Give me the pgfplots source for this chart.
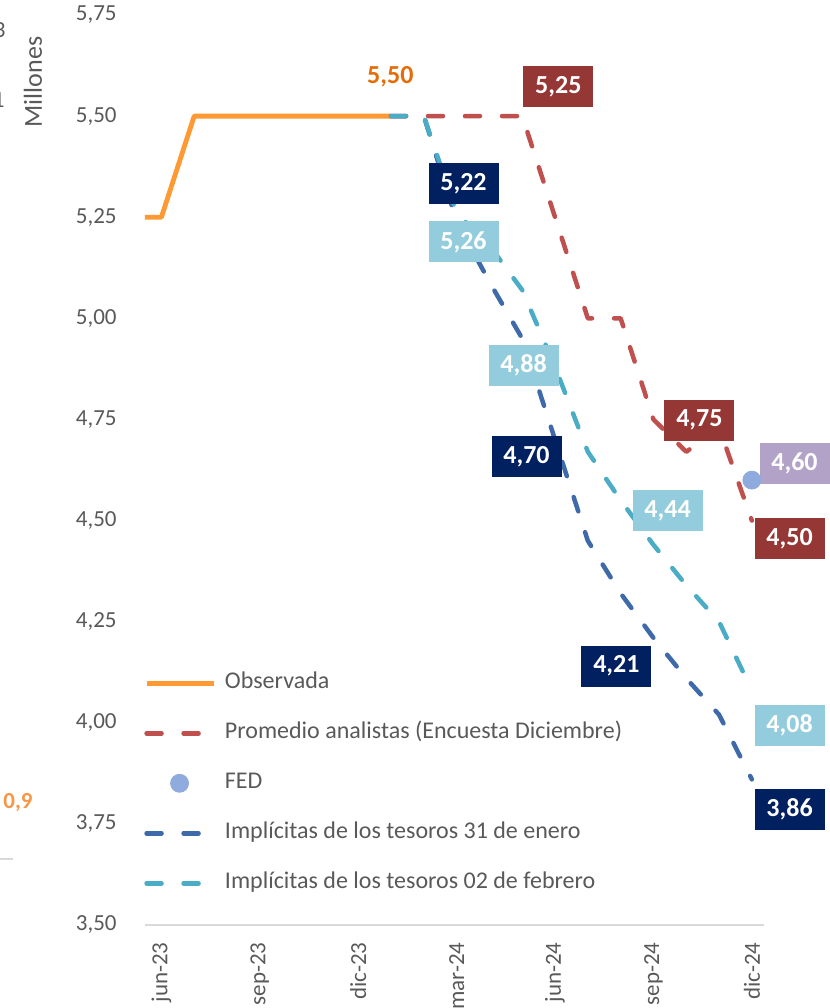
\documentclass[border=0pt]{standalone}
\usepackage{fontspec}
\setmainfont{Carlito}
\usepackage{pgfplots}
\pgfplotsset{compat=1.18}

\definecolor{obs}{HTML}{FF9933}
\definecolor{prom}{HTML}{C0504D}
\definecolor{fed}{HTML}{8FAADC}
\definecolor{ene}{HTML}{3E6AAA}
\definecolor{feb}{HTML}{4BACC6}
\definecolor{txt}{HTML}{595959}
\definecolor{axisgray}{HTML}{D9D9D9}
\definecolor{boxred}{HTML}{953735}
\definecolor{boxnavy}{HTML}{002060}
\definecolor{boxaqua}{HTML}{93CDDD}
\definecolor{boxlila}{HTML}{B3A2C7}
\definecolor{lblorange}{HTML}{E46C0A}
\definecolor{sideorange}{HTML}{F79646}

\tikzset{
  lbl/.style={fill=#1, text=white, font=\fontsize{13}{15}\selectfont\bfseries,
    minimum width=35pt, minimum height=20.5pt, inner sep=0pt},
  dashed line/.style={line width=2.25pt, line cap=round, line join=round,
    dash pattern=on 7.5pt off 11pt},
}
\pgfplotsset{
  seg legend/.style={legend image code/.code={\draw[##1] (0pt,0pt) -- (33.5pt,0pt);}},
  dot legend/.style={legend image code/.code={\draw[##1] plot coordinates {(16.5pt,0pt)};}},
}

\begin{document}
\begin{tikzpicture}
\begin{axis}[
  width=309.5pt, height=455pt, scale only axis,
  xmin=-0.5, xmax=18.37, ymin=3.5, ymax=5.75,
  ytick={3.5,3.75,4,4.25,4.5,4.75,5,5.25,5.5,5.75},
  xtick={0,3,6,9,12,15,18},
  xticklabels={jun-23,sep-23,dic-23,mar-24,jun-24,sep-24,dic-24},
  axis x line*=bottom, axis y line*=left,
  x axis line style={draw=axisgray, line width=0.75pt, -},
  y axis line style={draw=none},
  major tick length=0pt,
  tick style={draw=none},
  ticklabel style={font=\fontsize{11.5}{13}\selectfont, text=txt, inner sep=0pt},
  yticklabel shift=14pt,
  xticklabel shift=8.5pt,
  xticklabel style={rotate=90, anchor=east},
  yticklabel style={/pgf/number format/.cd, fixed, fixed zerofill, precision=2,
    use comma, assume math mode=true},
  clip=false,
  legend cell align=left,
  seg legend,
  legend style={draw=none, fill=none, at={(-0.002,0.2787)}, anchor=north west,
    inner sep=0pt, row sep=13.5pt, column sep=4.5pt,
    font=\fontsize{12}{14}\selectfont, text=txt,
    nodes={inner sep=0pt, text height=8.5pt, text depth=3pt}},
]
% Observada
\addplot[obs, line width=2.4pt, line join=round] coordinates {
  (-0.5,5.25) (0,5.25) (1,5.50) (2,5.50) (3,5.50) (4,5.50) (5,5.50) (6,5.50) (7,5.50)};
\addlegendentry{Observada}
% Promedio analistas (Encuesta Diciembre)
\addplot[prom, dashed line] coordinates {
  (7,5.50) (8,5.50) (9,5.50) (10,5.50) (11,5.50) (12,5.25) (13,5.00) (14,5.00)
  (15,4.75) (16,4.67) (17,4.73) (18,4.50)};
\addlegendentry{Promedio analistas (Encuesta Diciembre)}
% FED
\addplot[only marks, mark=*, mark size=4.5pt, fed, mark options={draw=fed, fill=fed},
  dot legend] coordinates {(18,4.60)};
\addlegendentry{FED}
% Implicitas 31 de enero
\addplot[ene, dashed line] coordinates {
  (7,5.50) (8,5.50) (9,5.24) (10,5.09) (11,4.95) (12,4.70) (13,4.45) (14,4.32)
  (15,4.21) (16,4.11) (17,4.02) (18,3.86)};
\addlegendentry{Implícitas de los tesoros 31 de enero}
% Implicitas 02 de febrero
\addplot[feb, dashed line] coordinates {
  (7,5.50) (8,5.50) (9,5.26) (10,5.18) (11,5.07) (12,4.88) (13,4.67) (14,4.55)
  (15,4.44) (16,4.34) (17,4.25) (18,4.08)};
\addlegendentry{Implícitas de los tesoros 02 de febrero}

% data labels
\node[text=lblorange, font=\fontsize{13}{15}\selectfont\bfseries, inner sep=0pt]
  at (axis cs:6.98,5.597) {5,50};
\node[lbl=boxred]   at (axis cs:12.10,5.572) {5,25};
\node[lbl=boxnavy]  at (axis cs:9.21,5.334)  {5,22};
\node[lbl=boxaqua]  at (axis cs:9.21,5.189)  {5,26};
\node[lbl=boxaqua]  at (axis cs:11.04,4.884) {4,88};
\node[lbl=boxred]   at (axis cs:16.40,4.748) {4,75};
\node[lbl=boxnavy]  at (axis cs:11.13,4.658) {4,70};
\node[lbl=boxlila]  at (axis cs:19.30,4.641) {4,60};
\node[lbl=boxaqua]  at (axis cs:15.43,4.525) {4,44};
\node[lbl=boxred]   at (axis cs:19.15,4.455) {4,50};
\node[lbl=boxnavy]  at (axis cs:13.87,4.140) {4,21};
\node[lbl=boxaqua]  at (axis cs:19.15,3.994) {4,08};
\node[lbl=boxnavy]  at (axis cs:19.15,3.786) {3,86};
\end{axis}

% pieces of the neighbouring chart, cut by the page edge
\begin{scope}[x=0.5pt, y=-0.5pt, shift={(-145,-925)}]
  \node[anchor=east, text=txt, font=\fontsize{11.5}{13}\selectfont, inner sep=0pt] at (6,30) {3};
  \node[anchor=east, text=txt, font=\fontsize{11.5}{13}\selectfont, inner sep=0pt] at (5,100) {1};
  \node[rotate=90, text=txt, font=\fontsize{13}{15}\selectfont, inner sep=0pt] at (33,82) {Millones};
  \node[text=sideorange, font=\fontsize{11.5}{13}\selectfont\bfseries, inner sep=0pt] at (18,803) {0,9};
  \draw[axisgray, line width=0.75pt] (-5,859) -- (13,859);
\end{scope}

\pgfresetboundingbox
\path[use as bounding box] (-72.5pt,-41.5pt) rectangle (342.5pt,462.5pt);
\end{tikzpicture}
\end{document}
